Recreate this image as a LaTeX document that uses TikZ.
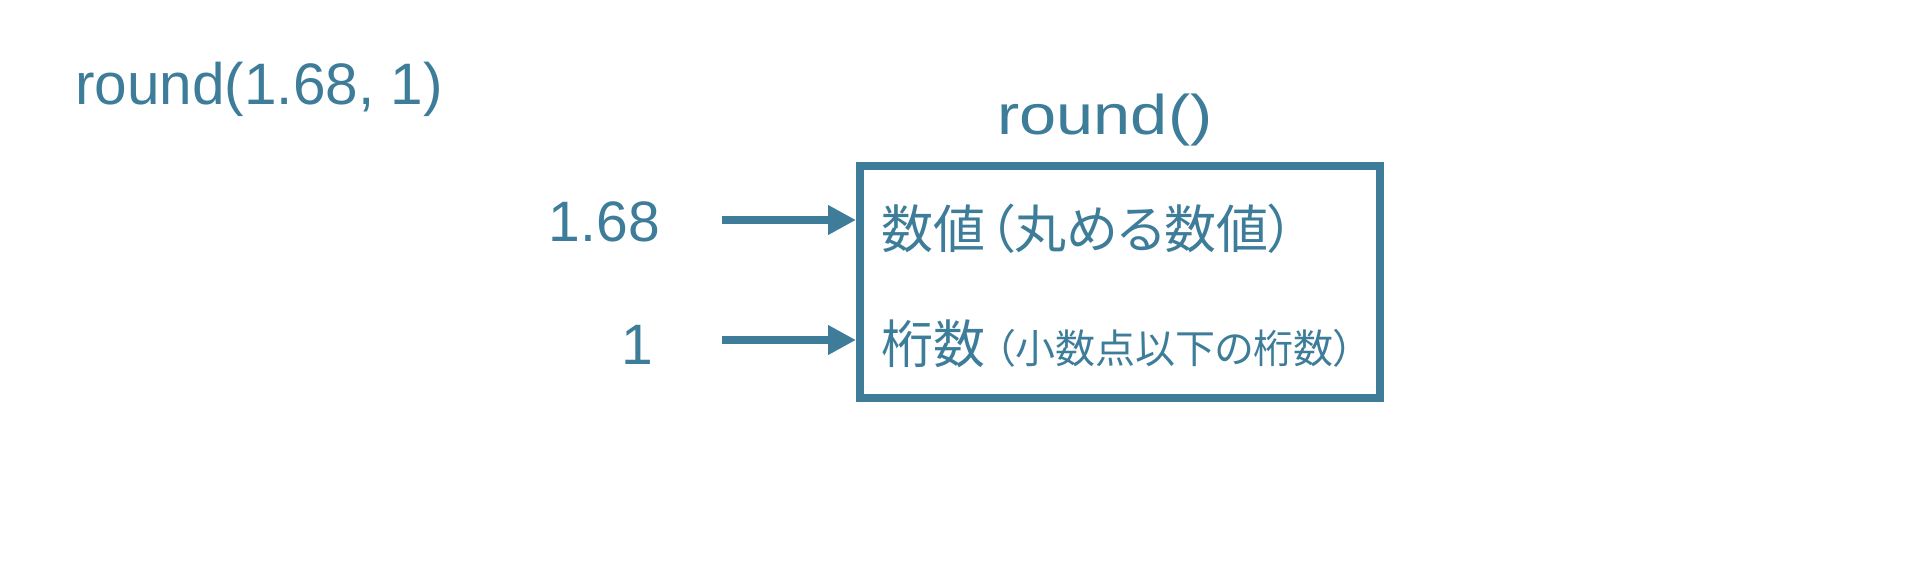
\documentclass[tikz,border=0pt]{standalone}
\usepackage{fontspec}
\setmainfont{Liberation Sans}
\newfontfamily\jp[RawFeature=+palt]{Noto Sans CJK JP}
\usetikzlibrary{arrows.meta}
\definecolor{steel}{RGB}{62,125,153}
\tikzset{
  lbl/.style={text=steel, inner sep=0pt, font=\fontsize{57}{60}\selectfont},
  jtxt/.style={text=steel, inner sep=0pt, font=\jp\fontsize{52}{60}\selectfont},
  arr/.style={draw=steel, line width=7.5pt, -{Triangle[length=28pt,width=28pt]}},
  fbox/.style={draw=steel, line width=8pt, inner sep=0pt},
}
\begin{document}
\begin{tikzpicture}[x=1pt, y=-1pt]
\useasboundingbox[fill=white] (0,0) rectangle (1916,560);
% title
\node[lbl, anchor=base west, font=\fontsize{58.5}{60}\selectfont] (title) at (75,104) {round(1.68, 1)};
% function name
\node[lbl, anchor=base, font=\fontsize{56}{60}\selectfont] (fname) at (1105,134) {\scalebox{1.19}[1]{round()}};
% box
\node[fbox, minimum width=520pt, minimum height=232pt] (box) at (1120,282) {};
% inputs
\node[lbl, anchor=base east] (v1) at (660,241) {1.68};
\node[lbl, anchor=base east] (v2) at (653,364) {1};
\coordinate (s1) at (722,220);
\coordinate (s2) at (722,340);
\draw[arr] (s1) -- (s1 -| box.west);
\draw[arr] (s2) -- (s2 -| box.west);
% parameter texts
\node[jtxt, anchor=base west] (p1) at (881,248) {数値\hspace{3pt}（丸める数値）};
\node[jtxt, anchor=base west] (p2) at (881,363) {桁数\hspace{10pt}{\fontsize{40}{40}\selectfont（小数点以下の桁数）}};
\end{tikzpicture}
\end{document}
